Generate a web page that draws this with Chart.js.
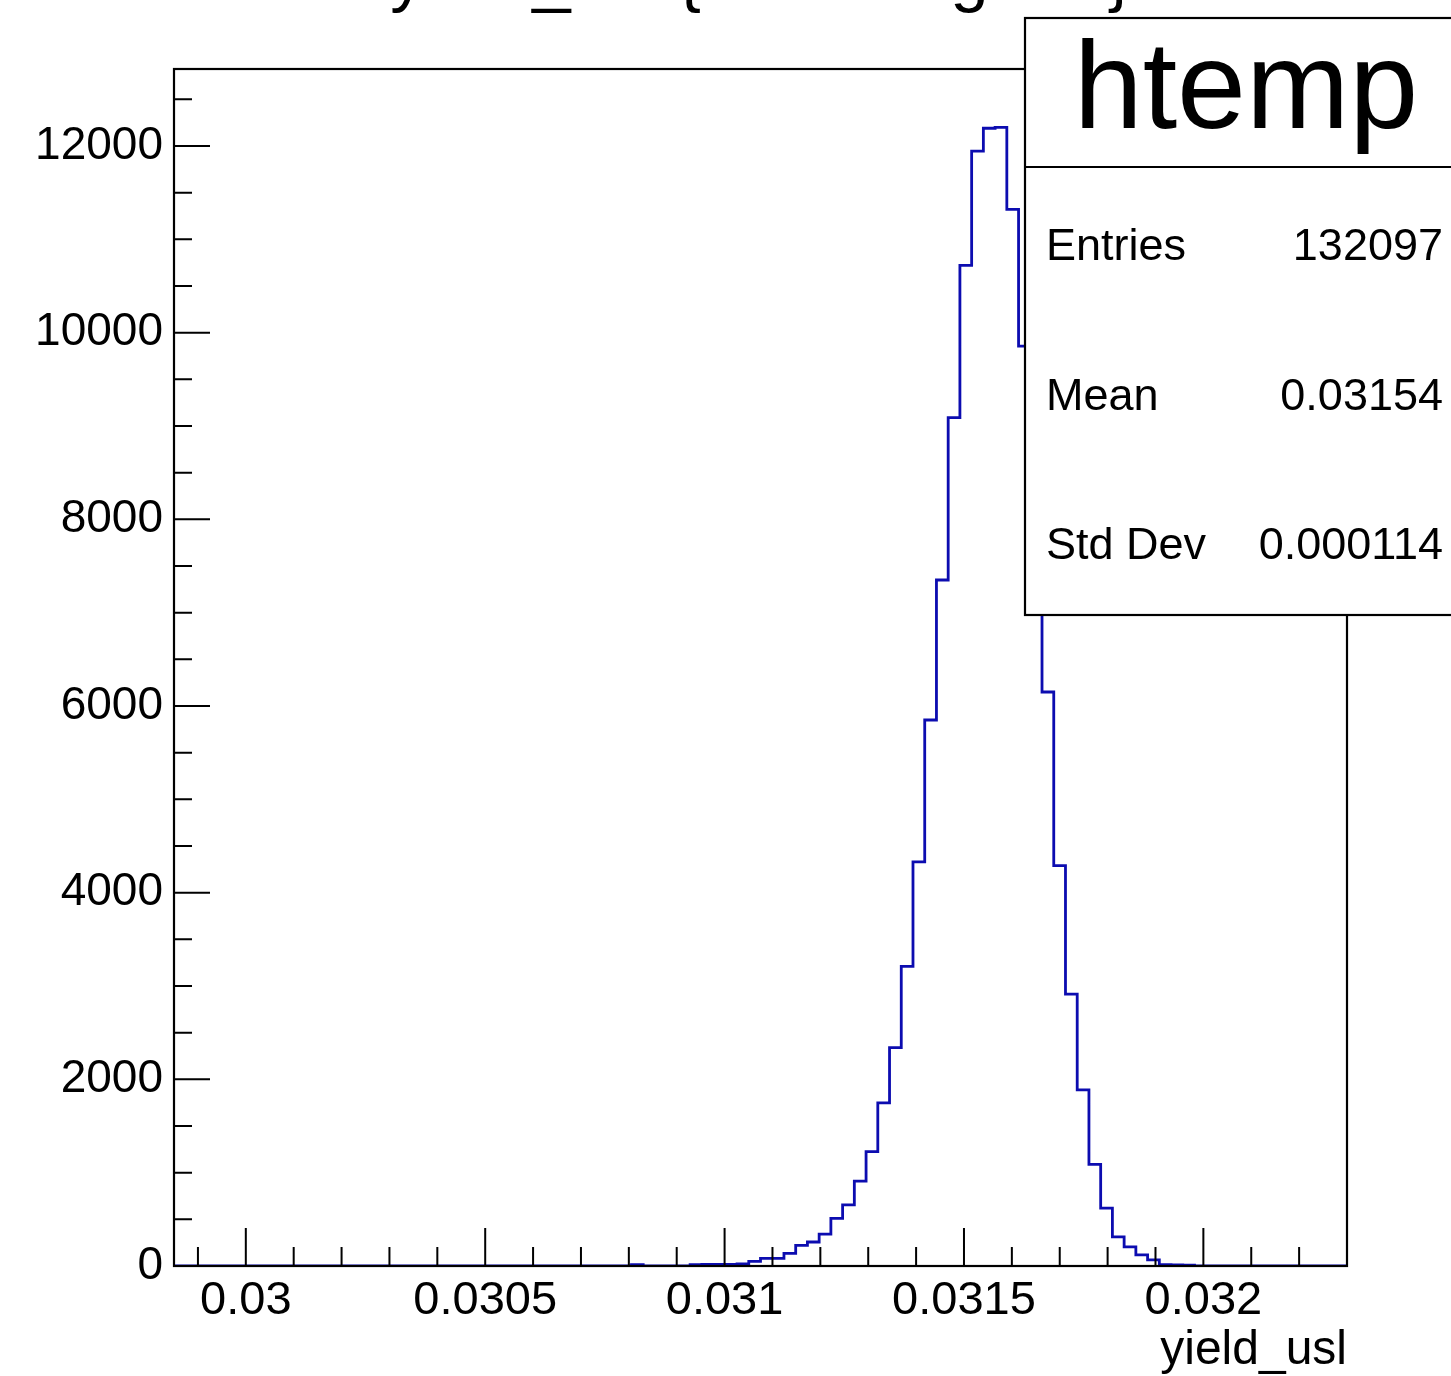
<!DOCTYPE html>
<html>
<head>
<meta charset="utf-8">
<script src="https://cdn.jsdelivr.net/npm/chart.js@4.4.1/dist/chart.umd.min.js"></script>
<style>
  html, body { margin: 0; padding: 0; background: #fff; overflow: hidden; }
  canvas { display: block; }
</style>
</head>
<body>
<canvas id="c" width="1451" height="1376"></canvas>
<script>
// ---------------- data ----------------
const histTitle = 'yield_usl {ErrorFlag==0}';
const xAxisTitle = 'yield_usl';
const statsName = 'htemp';
const statsLabels = ['Entries', 'Mean', 'Std Dev'];
const statsValues = ['132097', '0.03154', '0.000114'];

const xMin = 0.02985;
const xMax = 0.0323;
const yMax = 12825;

// 100 bin contents (bin 0 .. bin 99)
const binCounts = [
  0, 0, 0, 0, 0, 0, 0, 0, 0, 0,
  0, 0, 0, 0, 0, 0, 0, 0, 0, 0,
  0, 0, 0, 0, 0, 0, 0, 0, 0, 0,
  0, 0, 0, 0, 0, 0, 0, 0, 0, 15,
  0, 0, 0, 0, 14, 16, 16, 18, 22, 50,
  82, 82, 135, 220, 257, 342, 511, 655, 910, 1225,
  1748, 2340, 3210, 4330, 5850, 7350, 9090, 10720, 11945, 12190,
  12200, 11320, 9855, 7690, 6150, 4290, 2914, 1886, 1088, 621,
  311, 204, 120, 65, 15, 12, 10, 0, 0, 0,
  0, 0, 0, 0, 0, 0, 0, 0, 0, 0
];

const xTickValues = [0.03, 0.0305, 0.031, 0.0315, 0.032];
const xTickLabels = ['0.03', '0.0305', '0.031', '0.0315', '0.032'];
const yTickValues = [0, 2000, 4000, 6000, 8000, 10000, 12000];
const yTickLabels = ['0', '2000', '4000', '6000', '8000', '10000', '12000'];
const xMinorStep = 0.0001;
const yMinorStep = 500;

// ---------------- build points (bin low edges + last upper edge) ----------------
const nBins = binCounts.length;
const binW = (xMax - xMin) / nBins;
const points = binCounts.map((v, i) => ({ x: xMin + i * binW, y: v }));
points.push({ x: xMax, y: binCounts[nBins - 1] });

const FONT = '"Liberation Sans", Arial, Helvetica, sans-serif';

const rootPlugin = {
  id: 'rootStyle',
  afterDatasetsDraw(chart) {
    const ctx = chart.ctx;
    const a = chart.chartArea;
    const xs = chart.scales.x, ys = chart.scales.y;
    ctx.save();
    ctx.strokeStyle = '#000';
    ctx.lineWidth = 2.2;
    // frame
    ctx.strokeRect(a.left, a.top, a.right - a.left, a.bottom - a.top);
    // x ticks (inward)
    ctx.lineWidth = 2;
    ctx.beginPath();
    const nx = Math.round((xMax - xMin) / xMinorStep) + 2;
    for (let k = 0; k < nx; k++) {
      const v = Math.round((Math.ceil(xMin / xMinorStep) + k) * xMinorStep * 1e6) / 1e6;
      if (v > xMax) break;
      const px = xs.getPixelForValue(v);
      const major = Math.abs(v / 0.0005 - Math.round(v / 0.0005)) < 1e-6;
      ctx.moveTo(px, a.bottom);
      ctx.lineTo(px, a.bottom - (major ? 38 : 19));
    }
    // y ticks (inward)
    for (let v = 0; v <= yMax; v += yMinorStep) {
      const py = ys.getPixelForValue(v);
      const major = v % 2000 === 0;
      ctx.moveTo(a.left, py);
      ctx.lineTo(a.left + (major ? 36 : 18), py);
    }
    ctx.stroke();

    // x axis title
    ctx.fillStyle = '#000';
    ctx.font = '48px ' + FONT;
    ctx.textAlign = 'right';
    ctx.textBaseline = 'alphabetic';
    ctx.fillText(xAxisTitle, a.right, 1364);

    // main title (mostly above the visible area)
    ctx.font = '69px ' + FONT;
    ctx.textAlign = 'center';
    ctx.fillText(histTitle, (a.left + a.right) / 2, -1);

    // stats box
    const bx = 1025, by = 18, bw = 460, bh = 597, div = 167;
    ctx.fillStyle = '#fff';
    ctx.fillRect(bx, by, bw, bh);
    ctx.lineWidth = 2.2;
    ctx.strokeRect(bx, by, bw, bh);
    ctx.beginPath();
    ctx.moveTo(bx, div);
    ctx.lineTo(bx + bw, div);
    ctx.stroke();
    ctx.fillStyle = '#000';
    ctx.font = '124px ' + FONT;
    ctx.textAlign = 'center';
    ctx.fillText(statsName, 1246, 128);
    ctx.font = '45px ' + FONT;
    const rowsY = [260, 410, 559];
    statsLabels.forEach((t, i) => {
      ctx.textAlign = 'left';
      ctx.fillText(t, 1046, rowsY[i]);
      ctx.textAlign = 'right';
      ctx.fillText(statsValues[i], 1443, rowsY[i]);
    });
    ctx.restore();
  }
};

new Chart(document.getElementById('c').getContext('2d'), {
  type: 'line',
  data: {
    datasets: [{
      data: points,
      stepped: 'before',
      borderColor: '#0c0cb0',
      borderWidth: 2.8,
      pointRadius: 0,
      fill: false,
      tension: 0
    }]
  },
  options: {
    responsive: false,
    animation: false,
    devicePixelRatio: 1,
    layout: { padding: { top: 69, right: 104, left: 0, bottom: 0 } },
    plugins: { legend: { display: false }, tooltip: { enabled: false }, title: { display: false } },
    scales: {
      x: {
        type: 'linear',
        min: xMin,
        max: xMax,
        grid: { display: false, drawTicks: false },
        border: { display: false },
        afterBuildTicks: s => { s.ticks = xTickValues.map(v => ({ value: v })); },
        afterFit: s => { s.height = 110; },
        ticks: {
          callback: (v, i) => xTickLabels[i],
          font: { family: FONT, size: 47 },
          color: '#000',
          padding: 7,
          maxRotation: 0,
          autoSkip: false,
          includeBounds: false
        }
      },
      y: {
        type: 'linear',
        min: 0,
        max: yMax,
        grid: { display: false, drawTicks: false },
        border: { display: false },
        afterBuildTicks: s => { s.ticks = yTickValues.map(v => ({ value: v })); },
        afterFit: s => { s.width = 174; },
        ticks: {
          callback: (v, i) => yTickLabels[i],
          font: { family: FONT, size: 46 },
          color: '#000',
          padding: 11,
          autoSkip: false,
          includeBounds: false
        }
      }
    }
  },
  plugins: [rootPlugin]
});
</script>
</body>
</html>
